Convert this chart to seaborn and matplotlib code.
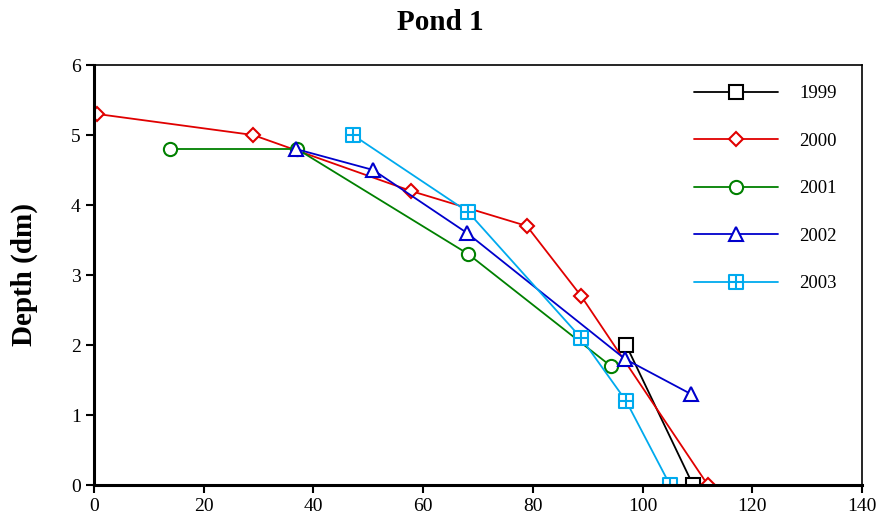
import numpy as np
import pandas as pd
import matplotlib
matplotlib.use("Agg")
import matplotlib.pyplot as plt
from matplotlib.path import Path
import seaborn as sns

years = ["1999", "2000", "2001", "2002", "2003"]
x1999 = [97.0, 109.2]
y1999 = [2.0, 0.0]
x2000 = [0.6, 29.0, 57.8, 78.9, 88.8, 111.9]
y2000 = [5.3, 5.0, 4.2, 3.7, 2.7, 0.0]
x2001 = [13.9, 37.0, 68.2, 94.2]
y2001 = [4.8, 4.8, 3.3, 1.7]
x2002 = [36.8, 50.9, 68.0, 96.8, 108.8]
y2002 = [4.8, 4.5, 3.6, 1.8, 1.3]
x2003 = [47.2, 68.2, 88.8, 97.0, 105.0]
y2003 = [5.0, 3.9, 2.1, 1.2, 0.0]
xs = [x1999, x2000, x2001, x2002, x2003]
ys = [y1999, y2000, y2001, y2002, y2003]
colors = ["#000000", "#e00000", "#008000", "#0000cc", "#00aaee"]

boxplus = Path(
    [(-1, -1), (1, -1), (1, 1), (-1, 1), (-1, -1),
     (0, -1), (0, 1), (-1, 0), (1, 0)],
    [Path.MOVETO, Path.LINETO, Path.LINETO, Path.LINETO, Path.CLOSEPOLY,
     Path.MOVETO, Path.LINETO, Path.MOVETO, Path.LINETO])
markers = ["s", "D", "o", "^", boxplus]
msizes = [9.5, 7.5, 9.5, 9.5, 9.5]

sns.set_style("ticks")
plt.rcParams["font.family"] = ["Liberation Serif", "DejaVu Serif"]
plt.rcParams["text.color"] = "black"
plt.rcParams["axes.labelcolor"] = "black"

fig = plt.figure(figsize=(8.78, 5.27), dpi=100)
ax = fig.add_axes([94/878, 1-485/527, (862-94)/878, (485-65)/527])

for yr, x, y, c, m, ms in zip(years, xs, ys, colors, markers, msizes):
    df = pd.DataFrame({"x": x, "y": y})
    sns.lineplot(data=df, x="x", y="y", ax=ax, sort=False, color=c, marker=m,
                 markersize=ms, markerfacecolor="white", markeredgecolor=c,
                 markeredgewidth=1.5, linewidth=1.3, label=yr)

ax.set_xlim(0, 140)
ax.set_ylim(0, 6)
ax.set_xticks(np.arange(0, 141, 20))
ax.set_yticks(np.arange(0, 7, 1))
ax.set_xlabel("")
ax.set_ylabel("")
fig.text(24/878, 1-275/527, "Depth (dm)", fontsize=21, fontweight="bold",
         rotation=90, ha="center", va="center", color="black")
fig.text(440/878, 1-22/527, "Pond 1", fontsize=21, fontweight="bold",
         ha="center", va="center", color="black")
ax.tick_params(direction="out", length=6, width=1.5, labelsize=14, colors="black")
for s in ["left", "bottom"]:
    ax.spines[s].set_linewidth(2.2)
for s in ["top", "right"]:
    ax.spines[s].set_linewidth(1.2)
    ax.spines[s].set_visible(True)
for s in ax.spines.values():
    s.set_color("black")

leg = ax.legend(loc="upper left", bbox_to_anchor=(694/878, 1-85/527),
                bbox_transform=fig.transFigure, frameon=False, fontsize=13.5,
                handlelength=4.5, handletextpad=1.1, labelspacing=1.62,
                borderpad=0, borderaxespad=0)
for t in leg.get_texts():
    t.set_color("black")

fig.savefig("out.png", dpi=100)
